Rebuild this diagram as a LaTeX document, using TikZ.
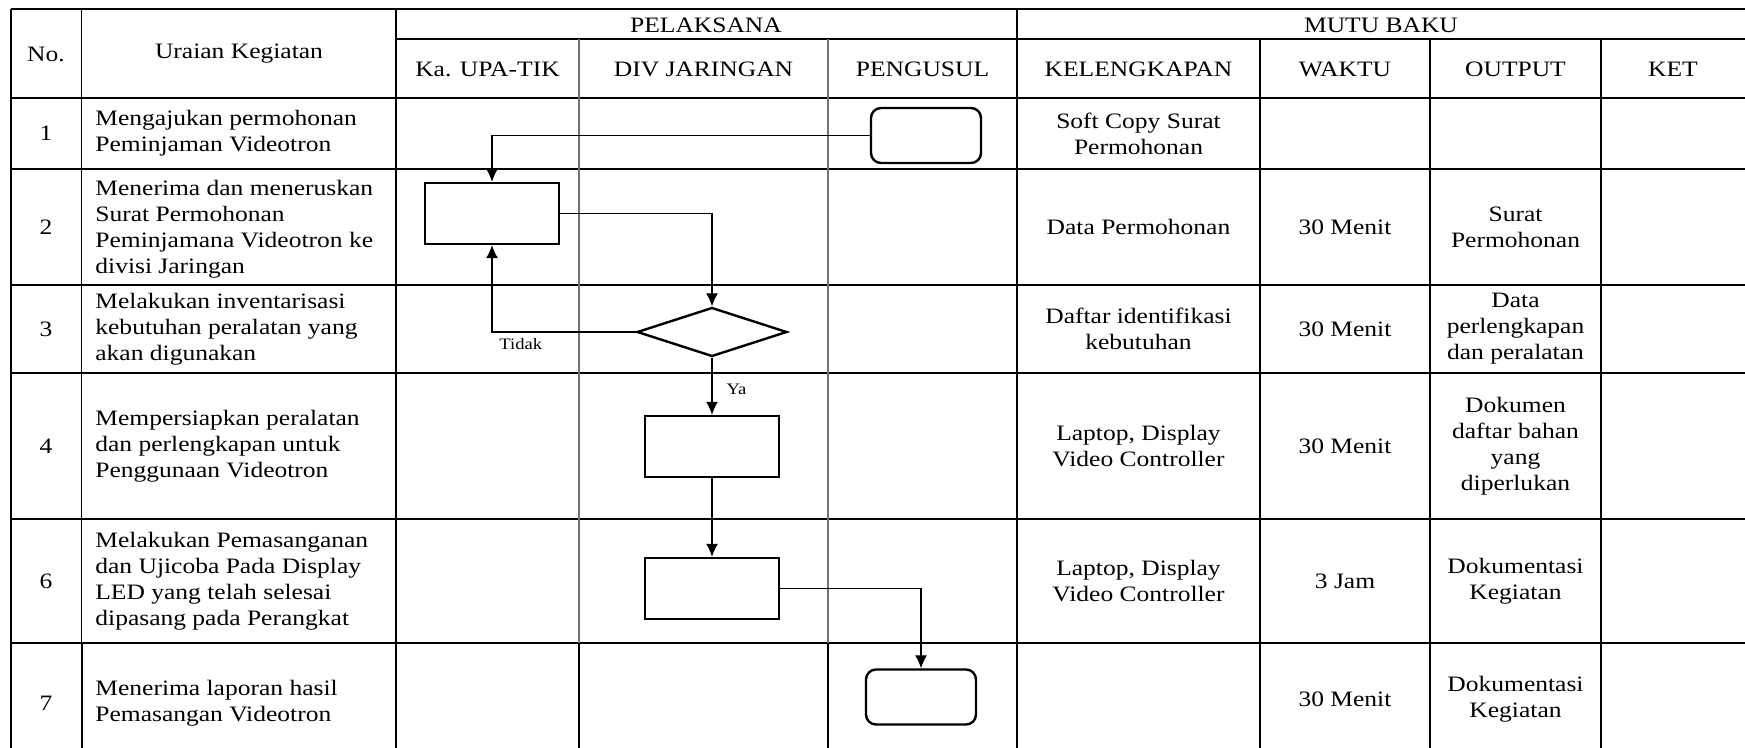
\documentclass[tikz,border=0pt]{standalone}
\usepackage{fontspec}
\setmainfont{Liberation Serif}[FakeStretch=1.16]
\usepackage{tikz}
\usetikzlibrary{shapes}
\usetikzlibrary{arrows.meta,arrows}
\usetikzlibrary{positioning}
\tikzset{>=latex}

\begin{document}
\begin{tikzpicture}[x=0.5pt, y=-0.5pt,
    every node/.style={inner sep=0pt, font=\fontsize{11}{13}\selectfont},
    isi/.style={align=center},
    uraian/.style={align=left, anchor=west},
    garis/.style={line width=1pt},
    tipis/.style={line width=0.65pt},
    lajur/.style={line width=0.6pt, draw=black!55},
    kotak/.style={rectangle, draw, line width=1.2pt, minimum width=67pt, minimum height=30.5pt},
    terminal/.style={rectangle, rounded corners=5pt, draw, line width=1.2pt, minimum width=55pt, minimum height=27.5pt},
    keputusan/.style={diamond, draw, line width=1.2pt, minimum width=75pt, minimum height=24.5pt},
    alur/.style={draw, line width=0.6pt, -{Latex[length=6.5pt,width=6pt]}},
    tanda/.style={font=\fontsize{8}{9}\selectfont}
    ]
\useasboundingbox (0,0) rectangle (1745,748);

% garis tabel
\draw[garis] (11,9) -- (1745,9);
\draw[garis] (396,39) -- (1745,39);
\draw[tipis] (11,98) -- (1745,98);
\draw[tipis] (11,169) -- (1745,169);
\foreach \y in {285,373,519,643} \draw[garis] (11,\y) -- (1745,\y);
\foreach \x in {11,81.5,396,1017} \draw[tipis] (\x,9) -- (\x,643);
\foreach \x in {1260,1430,1601} \draw[tipis] (\x,39) -- (\x,643);
\foreach \x in {579,828} \draw[lajur] (\x,39) -- (\x,643);
\foreach \x in {11,81.5,396,579,828,1017,1260,1430,1601} \draw[garis] (\x,643) -- (\x,748);

% kepala tabel
\node (hNo) at (46,54) {No.};
\node (hUraian) at (239,54) {Uraian Kegiatan};
\node (hPelaksana) at (706,25) {PELAKSANA};
\node (hMutu) at (1381,25) {MUTU BAKU};
\node (hKa) at (487.5,69) {Ka. UPA-TIK};
\node (hDiv) at (703.5,69) {DIV JARINGAN};
\node (hPengusul) at (922.5,69) {PENGUSUL};
\node (hKel) at (1138.5,69) {KELENGKAPAN};
\node (hWaktu) at (1345,69) {WAKTU};
\node (hOutput) at (1515.5,69) {OUTPUT};
\node (hKet) at (1673,69) {KET};

% nomor
\node (no1) at (46,133.5) {1};
\node (no2) at (46,227) {2};
\node (no3) at (46,329) {3};
\node (no4) at (46,446) {4};
\node (no6) at (46,581) {6};
\node (no7) at (46,703) {7};

% uraian kegiatan
\node[uraian] (ur1) at (95,133.5) {Mengajukan permohonan\\Peminjaman Videotron};
\node[uraian] (ur2) at (95,229) {Menerima dan meneruskan\\Surat Permohonan\\Peminjamana Videotron ke\\divisi Jaringan};
\node[uraian] (ur3) at (95,329) {Melakukan inventarisasi\\kebutuhan peralatan yang\\akan digunakan};
\node[uraian] (ur4) at (95,446) {Mempersiapkan peralatan\\dan perlengkapan untuk\\Penggunaan Videotron};
\node[uraian] (ur6) at (95,581) {Melakukan Pemasanganan\\dan Ujicoba Pada Display\\LED yang telah selesai\\dipasang pada Perangkat};
\node[uraian] (ur7) at (95,703) {Menerima laporan hasil\\Pemasangan Videotron};

% kelengkapan
\node[isi] (kel1) at (1138.5,133.5) {Soft Copy Surat\\Permohonan};
\node[isi] (kel2) at (1138.5,227) {Data Permohonan};
\node[isi] (kel3) at (1138.5,329) {Daftar identifikasi\\kebutuhan};
\node[isi] (kel4) at (1138.5,446) {Laptop, Display\\Video Controller};
\node[isi] (kel6) at (1138.5,581) {Laptop, Display\\Video Controller};

% waktu
\node (wkt2) at (1345,227) {30 Menit};
\node (wkt3) at (1345,329) {30 Menit};
\node (wkt4) at (1345,446) {30 Menit};
\node (wkt6) at (1345,581) {3 Jam};
\node (wkt7) at (1345,699) {30 Menit};

% output
\node[isi] (out2) at (1515.5,227) {Surat\\Permohonan};
\node[isi] (out3) at (1515.5,329) {Data\\perlengkapan\\dan peralatan};
\node[isi] (out4) at (1515.5,446) {Dokumen\\daftar bahan\\yang\\diperlukan};
\node[isi] (out6) at (1515.5,581) {Dokumentasi\\Kegiatan};
\node[isi] (out7) at (1515.5,699) {Dokumentasi\\Kegiatan};

% bagan alur
\node[terminal] (mulai) at (926,135.5) {};
\node[kotak] (terima) at (492,213.5) {};
\node[keputusan] (cek) at (712,332) {};
\node[kotak] (siap) at (712,446.5) {};
\node[kotak] (pasang) at (712,588.5) {};
\node[terminal] (selesai) at (921,697) {};

\draw[alur] (mulai.west) -| (terima.north);
\draw[alur] (terima.east) -| (cek.north);
\draw[alur] (cek.west) -| (terima.south)
    node[tanda, pos=0.4, below=3pt] (tidak) {Tidak};
\draw[alur] (cek.south) -- (siap.north)
    node[tanda, pos=0.55, right=7pt] (ya) {Ya};
\draw[alur] (siap.south) -- (pasang.north);
\draw[alur] (pasang.east) -| (selesai.north);
\end{tikzpicture}
\end{document}
